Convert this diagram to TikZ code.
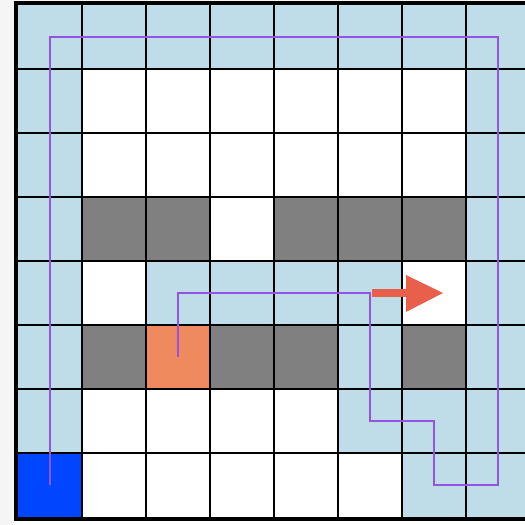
\documentclass[tikz,border=0pt]{standalone}
\definecolor{L}{HTML}{BEDDE9}
\definecolor{W}{HTML}{FFFFFF}
\definecolor{G}{HTML}{808080}
\definecolor{O}{HTML}{EE8A5E}
\definecolor{D}{HTML}{0046FF}
\definecolor{pathc}{HTML}{9652E0}
\definecolor{arrowc}{HTML}{E8604C}
\definecolor{margin}{HTML}{F5F5F5}
\tikzset{
  gridline/.style={line width=2.2pt, black},
  border/.style={line width=4pt, black},
  route/.style={line width=2.5pt, pathc, line join=miter},
  redarrow/.style={fill=arrowc, draw=none}
}
\begin{document}
\begin{tikzpicture}[x=1pt,y=-1pt]
\useasboundingbox (0,0) rectangle (525,525);
\fill[margin] (0,0) rectangle (525,525);
\fill[white] (14,520) rectangle (525,525);
\draw[gray!60, line width=1pt] (14,520.5) -- (525,520.5);
\begin{scope}
\clip (0,0) rectangle (525,525);
% cells
\foreach \row [count=\r from 0] in {
  {L,L,L,L,L,L,L,L},
  {L,W,W,W,W,W,W,L},
  {L,W,W,W,W,W,W,L},
  {L,G,G,W,G,G,G,L},
  {L,W,L,L,L,L,W,L},
  {L,G,O,G,G,L,G,L},
  {L,W,W,W,W,L,L,L},
  {D,W,W,W,W,W,L,L}} {
  \foreach \c [count=\k from 0] in \row {
    \fill[\c] ({18+64*\k},{5+64*\r}) rectangle +(64,64);
  }
}
% grid lines
\foreach \i in {1,...,7} {
  \draw[gridline] ({18+64*\i},5) -- ({18+64*\i},517);
  \draw[gridline] (18,{5+64*\i}) -- (530,{5+64*\i});
}
\draw[border] (530,3) -- (16,3) -- (16,518.5) -- (530,518.5);
\end{scope}
% route
\coordinate (start) at (50,485);
\coordinate (goal) at (178,357);
\draw[route] (start) -- (50,37) -- (498,37) -- (498,485) -- (434,485) -- (434,421)
  -- (370,421) -- (370,293) -- (178,293) -- (goal);
% arrow
\fill[redarrow] (372,289) rectangle (408,297);
\fill[redarrow] (406,275) -- (443,293) -- (406,312) -- cycle;
\end{tikzpicture}
\end{document}
